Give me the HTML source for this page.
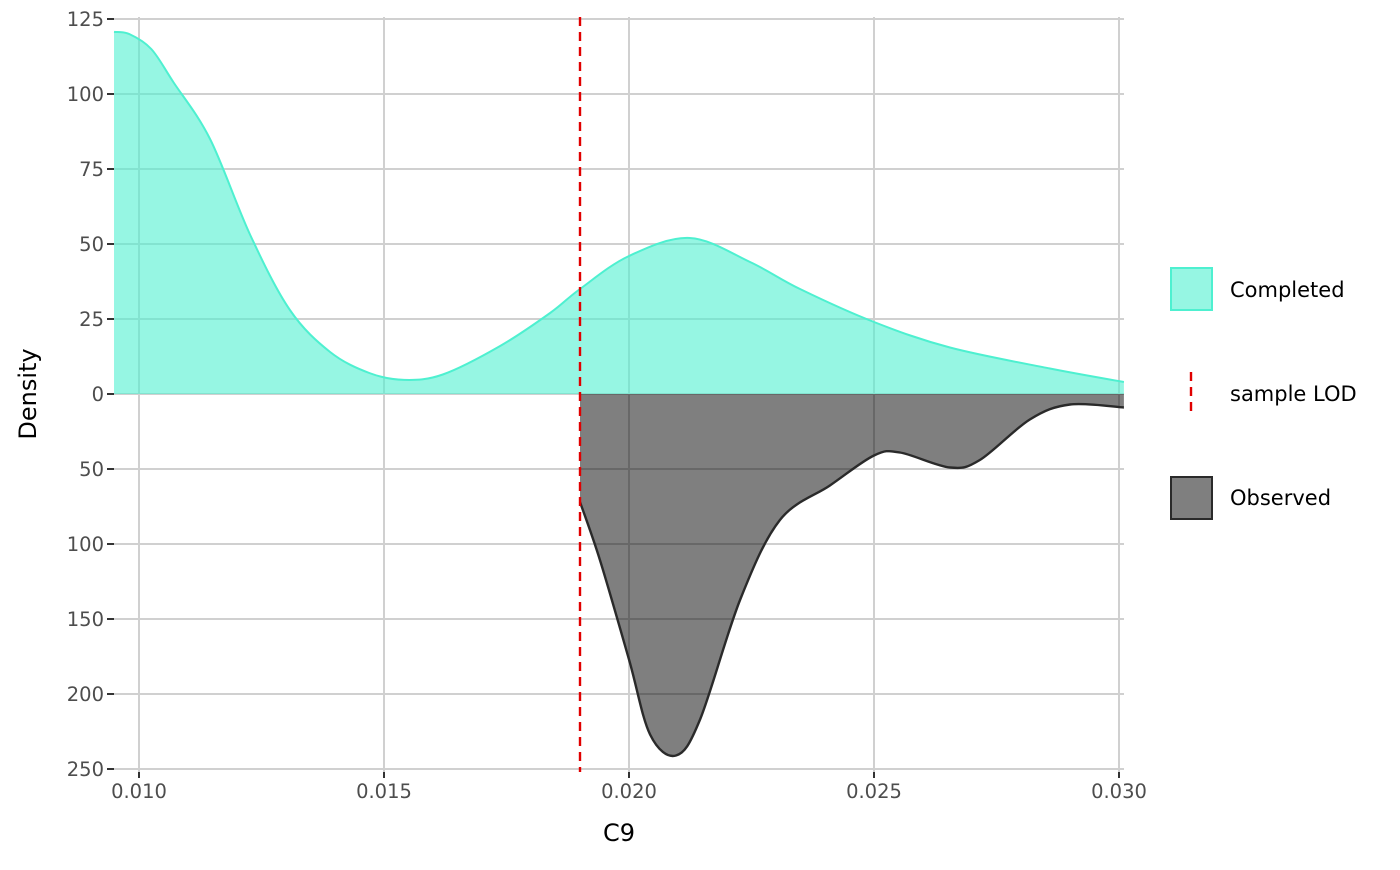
<!DOCTYPE html>
<html><head><meta charset="utf-8"><style>
body{margin:0;background:#fff;font-family:"Liberation Sans","DejaVu Sans",sans-serif}
svg text{font-family:"DejaVu Sans","Liberation Sans",sans-serif}
</style></head><body>
<svg id="chart" width="1400" height="865" xmlns="http://www.w3.org/2000/svg"></svg>
<script>
const xTicks=[0.010,0.015,0.020,0.025,0.030];
const yTicksPos=[0,25,50,75,100,125];
const yTicksNeg=[50,100,150,200,250];
const lodX=0.019;
const completedX=[0.00949,0.0098,0.01025,0.0107,0.01145,0.01227,0.01308,0.0139,0.0147,0.01541,0.0162,0.01737,0.01839,0.0190,0.020,0.02124,0.02247,0.02349,0.025,0.02655,0.02859,0.0301];
const completedY=[120.7,120,115,104,85,53,28,14,7,4.7,6.5,16,27,35,46,52,44,35,24,15.5,8.5,4];
const observedX=[0.0190,0.01941,0.0200,0.02043,0.02096,0.02145,0.02227,0.02308,0.0241,0.025,0.02553,0.02655,0.02716,0.02818,0.029,0.0301];
const observedY=[72,111,177,227,241,217,137,84,61,41,39,49,44,17,7,9];

const NS="http://www.w3.org/2000/svg";
const svg=document.getElementById('chart');
const L=114,R=1124,T=17,B=772;
const sx=v=>139+(v-0.010)*49000;
const syPos=v=>394-v*3;
const syNeg=v=>394+v*1.5;
function el(t,a,p){const e=document.createElementNS(NS,t);for(const k in a)e.setAttribute(k,a[k]);(p||svg).appendChild(e);return e;}
function smooth(pts){let d=`M${pts[0][0]},${pts[0][1]}`;for(let i=0;i<pts.length-1;i++){const p0=pts[i-1]||pts[i],p1=pts[i],p2=pts[i+1],p3=pts[i+2]||p2;
d+=` C${p1[0]+(p2[0]-p0[0])/6},${p1[1]+(p2[1]-p0[1])/6} ${p2[0]-(p3[0]-p1[0])/6},${p2[1]-(p3[1]-p1[1])/6} ${p2[0]},${p2[1]}`;}return d;}

xTicks.forEach(v=>{const g=el('line',{x1:sx(v),x2:sx(v),y1:T,y2:B,stroke:'#d0d0d0','stroke-width':2});
});
yTicksPos.forEach(v=>{const g=el('line',{x1:L,x2:R,y1:syPos(v),y2:syPos(v),stroke:'#d0d0d0','stroke-width':2});
});
yTicksNeg.forEach(v=>{const g=el('line',{x1:L,x2:R,y1:syNeg(v),y2:syNeg(v),stroke:'#d0d0d0','stroke-width':2});
});

const cp=completedX.map((x,i)=>[sx(x),syPos(completedY[i])]);
const cd=smooth(cp);
const ca=el('path',{d:cd+` L${cp[cp.length-1][0]},394 L${cp[0][0]},394 Z`,fill:'rgba(80,240,208,0.6)'});

const cl=el('path',{d:cd,fill:'none',stroke:'#4ef0d0','stroke-width':2});


const op=observedX.map((x,i)=>[sx(x),syNeg(observedY[i])]);
const od=smooth(op);
const oa=el('path',{d:od+` L${op[op.length-1][0]},394 L${op[0][0]},394 Z`,fill:'rgba(0,0,0,0.5)'});

const ol=el('path',{d:od,fill:'none',stroke:'#2a2a2a','stroke-width':2.4});


const lod=el('line',{x1:sx(lodX),x2:sx(lodX),y1:T,y2:B,stroke:'#e00000','stroke-width':2.4,'stroke-dasharray':'9,6'});


xTicks.forEach(v=>{const t=el('line',{x1:sx(v),x2:sx(v),y1:B,y2:B+6,stroke:'#333','stroke-width':2});

const tx=el('text',{x:sx(v),y:B+26,'text-anchor':'middle','font-size':19.5,fill:'#4d4d4d'});tx.textContent=v.toFixed(3);
});
function ytick(v,y){const t=el('line',{x1:L-7,x2:L,y1:y,y2:y,stroke:'#333','stroke-width':2});

const tx=el('text',{x:L-10,y:y+7,'text-anchor':'end','font-size':19.5,fill:'#4d4d4d'});tx.textContent=v;
}
yTicksPos.forEach(v=>ytick(v,syPos(v)));
yTicksNeg.forEach(v=>ytick(v,syNeg(v)));

const xt=el('text',{x:619,y:841,'text-anchor':'middle','font-size':24,fill:'#000'});xt.textContent='C9';

const yt=el('text',{x:36,y:394,'text-anchor':'middle','font-size':24,fill:'#000',transform:'rotate(-90 36 394)'});yt.textContent='Density';


const k1=el('rect',{x:1171,y:268,width:41,height:42,fill:'rgba(80,240,208,0.6)',stroke:'#4ef0d0','stroke-width':2});

const l1=el('text',{x:1230,y:297,'font-size':21,fill:'#000'});l1.textContent='Completed';

const k2=el('line',{x1:1191,x2:1191,y1:372,y2:416,stroke:'#e00000','stroke-width':2.4,'stroke-dasharray':'9,6'});

const l2=el('text',{x:1230,y:401,'font-size':21,fill:'#000'});l2.textContent='sample LOD';

const k3=el('rect',{x:1171,y:477,width:41,height:42,fill:'rgba(0,0,0,0.5)',stroke:'#2a2a2a','stroke-width':2});

const l3=el('text',{x:1230,y:505,'font-size':21,fill:'#000'});l3.textContent='Observed';

</script>
</body></html>
